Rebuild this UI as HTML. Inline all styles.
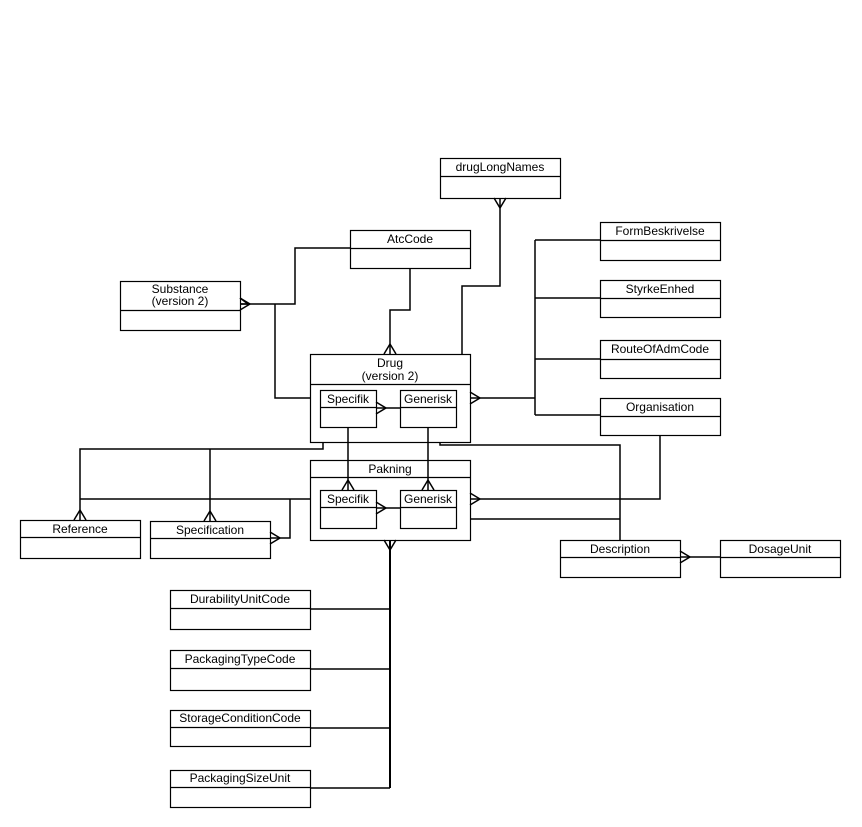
<!DOCTYPE html>
<html><head><meta charset="utf-8"><style>
html,body{margin:0;padding:0;background:#fff;}
svg{display:block;}
text{font-family:"Liberation Sans",Arial,sans-serif;font-size:12px;fill:#000;}
</style></head><body>
<svg width="862" height="827" viewBox="0 0 862 827" xmlns="http://www.w3.org/2000/svg">
<g fill="#fff" stroke="#000" stroke-width="1.2">
<!-- boxes: rect + header line -->
<rect x="440.5" y="158.5" width="120" height="40"/><line x1="440" y1="176.5" x2="560" y2="176.5"/>
<rect x="350.5" y="230.5" width="120" height="38"/><line x1="350" y1="248.5" x2="470" y2="248.5"/>
<rect x="120.5" y="281.5" width="120" height="49"/><line x1="120" y1="310.5" x2="240" y2="310.5"/>
<rect x="600.5" y="222.5" width="120" height="38"/><line x1="600" y1="240.5" x2="720" y2="240.5"/>
<rect x="600.5" y="280.5" width="120" height="37"/><line x1="600" y1="298.5" x2="720" y2="298.5"/>
<rect x="600.5" y="340.5" width="120" height="38"/><line x1="600" y1="359.5" x2="720" y2="359.5"/>
<rect x="600.5" y="398.5" width="120" height="37"/><line x1="600" y1="416.5" x2="720" y2="416.5"/>
<rect x="310.5" y="354.5" width="160" height="88"/><line x1="310" y1="384.5" x2="470" y2="384.5"/>
<rect x="320.5" y="390.5" width="56" height="37"/><line x1="320" y1="407.5" x2="376" y2="407.5"/>
<rect x="400.5" y="390.5" width="56" height="37"/><line x1="400" y1="407.5" x2="456" y2="407.5"/>
<rect x="310.5" y="460.5" width="160" height="80"/><line x1="310" y1="477.5" x2="470" y2="477.5"/>
<rect x="320.5" y="490.5" width="56" height="38"/><line x1="320" y1="507.5" x2="376" y2="507.5"/>
<rect x="400.5" y="490.5" width="56" height="38"/><line x1="400" y1="507.5" x2="456" y2="507.5"/>
<rect x="20.5" y="520.5" width="120" height="38"/><line x1="20" y1="537.5" x2="140" y2="537.5"/>
<rect x="150.5" y="521.5" width="120" height="37"/><line x1="150" y1="538.5" x2="270" y2="538.5"/>
<rect x="560.5" y="540.5" width="120" height="37"/><line x1="560" y1="557.5" x2="680" y2="557.5"/>
<rect x="720.5" y="540.5" width="120" height="37"/><line x1="720" y1="557.5" x2="840" y2="557.5"/>
<rect x="170.5" y="590.5" width="140" height="39"/><line x1="170" y1="608.5" x2="310" y2="608.5"/>
<rect x="170.5" y="650.5" width="140" height="40"/><line x1="170" y1="668.5" x2="310" y2="668.5"/>
<rect x="170.5" y="710.5" width="140" height="36"/><line x1="170" y1="727.5" x2="310" y2="727.5"/>
<rect x="170.5" y="770.5" width="140" height="37"/><line x1="170" y1="787.5" x2="310" y2="787.5"/>
</g>
<g fill="none" stroke="#000" stroke-width="1.5">
<!-- AtcCode - Substance -->
<polyline points="350,248 295,248 295,304 240,304"/>
<polyline points="248,304 240,298 M0,0"/>
<path d="M250,304 L240,298 M250,304 L240,310 M250,304 L240,304"/>
<!-- Substance - Drug -->
<polyline points="275,304 275,398 310,398"/>
<!-- AtcCode - Drug -->
<polyline points="410,268 410,310 390,310 390,354"/>
<path d="M390,344 L384,354 M390,344 L396,354"/>
<!-- drugLongNames - Drug -->
<polyline points="500,198 500,286 462,286 462,354"/>
<path d="M500,208 L494,198 M500,208 L506,198"/>
<!-- Drug right -->
<polyline points="470,398 535,398"/>
<path d="M480,398 L470,392 M480,398 L470,404"/>
<polyline points="535,240 535,415"/>
<line x1="535" y1="240" x2="600" y2="240"/>
<line x1="535" y1="298" x2="600" y2="298"/>
<line x1="535" y1="359" x2="600" y2="359"/>
<line x1="535" y1="415" x2="600" y2="415"/>
<!-- inner Drug -->
<line x1="376" y1="408" x2="400" y2="408"/>
<path d="M386,408 L376,402 M386,408 L376,414"/>
<line x1="348" y1="427" x2="348" y2="490"/>
<path d="M348,480 L342,490 M348,480 L354,490"/>
<line x1="428" y1="427" x2="428" y2="490"/>
<path d="M428,480 L422,490 M428,480 L434,490"/>
<!-- inner Pakning -->
<line x1="376" y1="508" x2="400" y2="508"/>
<path d="M386,508 L376,502 M386,508 L376,514"/>
<!-- Drug bottom-left -->
<polyline points="323,442 323,449 80,449 80,520"/>
<line x1="210" y1="449" x2="210" y2="521"/>
<path d="M80,510 L74,520 M80,510 L86,520"/>
<path d="M210,511 L204,521 M210,511 L216,521"/>
<!-- Pakning left -->
<line x1="80" y1="499" x2="310" y2="499"/>
<polyline points="290,499 290,538 270,538"/>
<path d="M280,538 L270,532 M280,538 L270,544"/>
<!-- Drug bottom-right to Description -->
<polyline points="440,442 440,445 620,445 620,540"/>
<line x1="470" y1="519" x2="620" y2="519"/>
<!-- Organisation to Pakning -->
<polyline points="660,435 660,499 470,499"/>
<path d="M480,499 L470,493 M480,499 L470,505"/>
<!-- Description - DosageUnit -->
<line x1="680" y1="557" x2="720" y2="557"/>
<path d="M690,557 L680,551 M690,557 L680,563"/>
<!-- Pakning bottom -->
<line x1="390" y1="540" x2="390" y2="788" stroke-width="2"/>
<path d="M390,550 L384,540 M390,550 L396,540"/>
<line x1="310" y1="609" x2="390" y2="609"/>
<line x1="310" y1="669" x2="390" y2="669"/>
<line x1="310" y1="728" x2="390" y2="728"/>
<line x1="310" y1="788" x2="390" y2="788"/>
</g>
<g text-anchor="middle">
<text x="500" y="171">drugLongNames</text>
<text x="410" y="243">AtcCode</text>
<text x="180" y="293">Substance</text>
<text x="180" y="305">(version 2)</text>
<text x="660" y="235">FormBeskrivelse</text>
<text x="660" y="293">StyrkeEnhed</text>
<text x="660" y="353">RouteOfAdmCode</text>
<text x="660" y="411">Organisation</text>
<text x="390" y="367">Drug</text>
<text x="390" y="380">(version 2)</text>
<text x="348" y="403">Specifik</text>
<text x="428" y="403">Generisk</text>
<text x="390" y="473">Pakning</text>
<text x="348" y="503">Specifik</text>
<text x="428" y="503">Generisk</text>
<text x="80" y="533">Reference</text>
<text x="210" y="534">Specification</text>
<text x="620" y="553">Description</text>
<text x="780" y="553">DosageUnit</text>
<text x="240" y="603">DurabilityUnitCode</text>
<text x="240" y="663">PackagingTypeCode</text>
<text x="240" y="722">StorageConditionCode</text>
<text x="240" y="782">PackagingSizeUnit</text>
</g>
</svg>
</body></html>
